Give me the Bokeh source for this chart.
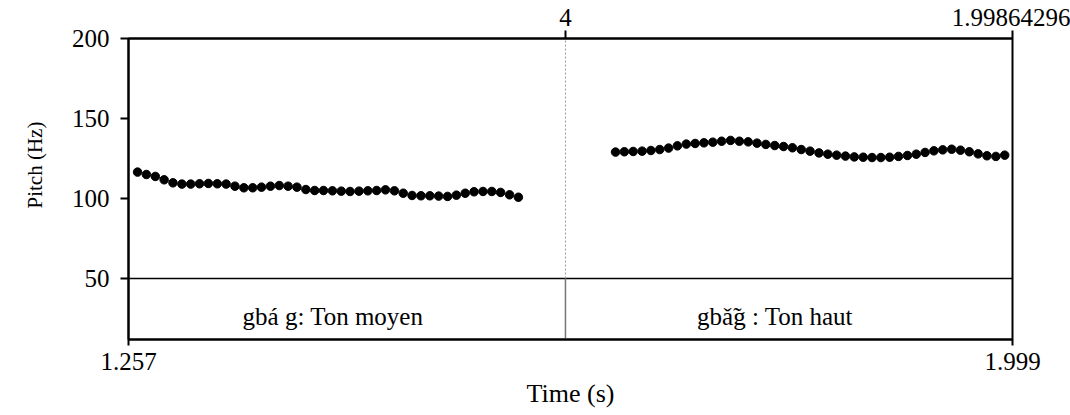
from bokeh.plotting import figure
from bokeh.models import Range1d, LinearAxis, FixedTicker, Title, ColumnDataSource
from bokeh.core.properties import value
from bokeh.embed import file_html
from bokeh.resources import INLINE

# Visible time window (s)
t_start = 1.257
t_end = 1.99864296

# Pitch range shown above the tier, and the tier boundary
pitch_floor = 50
pitch_ceiling = 200
pitch_ticks = [50, 100, 150, 200]

# Pitch contour of the first word
time1 = [1.2646, 1.2720, 1.2795, 1.2869, 1.2943, 1.3018, 1.3092, 1.3166, 1.3240, 1.3315,
         1.3389, 1.3463, 1.3538, 1.3612, 1.3686, 1.3761, 1.3835, 1.3909, 1.3983, 1.4058,
         1.4132, 1.4206, 1.4281, 1.4355, 1.4429, 1.4504, 1.4578, 1.4652, 1.4726, 1.4801,
         1.4875, 1.4949, 1.5024, 1.5098, 1.5172, 1.5247, 1.5321, 1.5395, 1.5469, 1.5544,
         1.5618, 1.5692, 1.5767, 1.5841]
pitch1 = [116.5, 115.0, 113.8, 111.7, 109.8, 109.0, 109.0, 109.2, 109.4, 109.2,
          109.0, 107.7, 106.7, 106.7, 107.1, 107.7, 108.1, 107.7, 107.1, 105.6,
          105.0, 105.0, 104.8, 104.6, 104.4, 104.6, 104.8, 105.0, 105.4, 104.8,
          103.3, 101.9, 101.7, 101.7, 101.5, 101.3, 102.1, 103.3, 104.2, 104.4,
          104.4, 103.8, 102.3, 100.8]

# Pitch contour of the second word
time2 = [1.6656, 1.6730, 1.6804, 1.6879, 1.6953, 1.7027, 1.7101, 1.7175, 1.7250, 1.7324,
         1.7398, 1.7472, 1.7546, 1.7621, 1.7695, 1.7769, 1.7843, 1.7917, 1.7992, 1.8066,
         1.8140, 1.8214, 1.8288, 1.8363, 1.8437, 1.8511, 1.8585, 1.8659, 1.8734, 1.8808,
         1.8882, 1.8956, 1.9030, 1.9105, 1.9179, 1.9253, 1.9327, 1.9401, 1.9476, 1.9550,
         1.9624, 1.9698, 1.9772, 1.9847, 1.9921]
pitch2 = [129.0, 129.2, 129.4, 129.6, 130.0, 130.6, 131.5, 132.9, 134.0, 134.4,
          134.8, 135.2, 135.8, 136.3, 135.8, 135.4, 134.6, 133.8, 133.1, 132.5,
          131.7, 130.6, 129.6, 128.5, 127.7, 127.1, 126.5, 126.0, 125.8, 125.6,
          125.6, 125.8, 126.3, 126.9, 127.7, 128.8, 129.8, 130.4, 130.8, 130.2,
          129.2, 127.9, 126.7, 126.3, 127.1]

# TextGrid tier: interval boundaries and labels
boundary_time = 1.6236
boundary_label = "4"
end_label = "1.99864296"
interval_starts = [t_start, boundary_time]
interval_ends = [boundary_time, t_end]
interval_labels = ["gbá g: Ton moyen", "gbǎ̃g : Ton haut"]

FONT = "Liberation Serif"
FS = "25px"
FS_BIG = "26px"

# Frame geometry: the tier sits below the pitch area
frame_h = 301
pitch_h = 240
tier_bottom = pitch_floor - (frame_h - pitch_h) * (pitch_ceiling - pitch_floor) / pitch_h

p = figure(width=1070, height=415, output_backend="svg", toolbar_location=None,
           x_range=Range1d(t_start, t_end), y_range=Range1d(tier_bottom, pitch_ceiling),
           x_axis_location=None, y_axis_location=None,
           min_border_left=128, min_border_right=58, min_border_top=38, min_border_bottom=76)
p.xgrid.visible = False
p.ygrid.visible = False
p.background_fill_color = "white"
p.border_fill_color = "white"
p.outline_line_color = "black"
p.outline_line_width = 2


def style_axis(ax, tick_out):
    ax.axis_line_color = "black"
    ax.axis_line_width = 2
    ax.major_tick_out = tick_out
    ax.major_tick_in = 0
    ax.major_tick_line_width = 2
    ax.minor_tick_line_color = None
    ax.major_label_text_font = FONT
    ax.major_label_text_font_size = FS
    ax.major_label_text_color = "black"
    ax.axis_label_text_font = FONT
    ax.axis_label_text_font_size = FS_BIG
    ax.axis_label_text_font_style = "normal"
    ax.axis_label_text_color = "black"


# Left pitch axis
yax = LinearAxis(ticker=FixedTicker(ticks=pitch_ticks))
style_axis(yax, 8)
yax.major_label_standoff = 11
p.add_layout(yax, "left")

# Vertical axis title, anchored above the frame bottom so it sits beside the pitch area
ytitle = Title(text="Pitch (Hz)", align="left", vertical_align="top", offset=131, standoff=40,
               text_font=FONT, text_font_size="21px", text_font_style="normal",
               text_color="black")
p.add_layout(ytitle, "left")

# Bottom time axis
xax = LinearAxis(ticker=FixedTicker(ticks=[t_start, t_end]))
style_axis(xax, 6)
xax.major_label_overrides = {t_start: "1.257", t_end: "1.999"}
xax.major_label_standoff = 7
xax.axis_label = "Time (s)"
xax.axis_label_standoff = 6
p.add_layout(xax, "below")

# Top axis: boundary time and end time
tax = LinearAxis(ticker=FixedTicker(ticks=[boundary_time, t_end]))
style_axis(tax, 8)
tax.major_label_overrides = {boundary_time: boundary_label, t_end: end_label}
tax.major_label_standoff = 5
p.add_layout(tax, "above")

# Tier separator and interval boundary
p.segment(x0=[t_start], y0=[pitch_floor], x1=[t_end], y1=[pitch_floor],
          line_color="black", line_width=1.5)
p.segment(x0=[boundary_time], y0=[pitch_floor], x1=[boundary_time], y1=[pitch_ceiling],
          line_color="#999999", line_width=1, line_dash="2 2")
p.segment(x0=[boundary_time], y0=[tier_bottom], x1=[boundary_time], y1=[pitch_floor],
          line_color="#777777", line_width=1.5)

# Interval labels centred in each interval
tier_src = ColumnDataSource(dict(
    x=[(a + b) / 2 for a, b in zip(interval_starts, interval_ends)],
    y=[(tier_bottom + pitch_floor) / 2] * len(interval_labels),
    text=interval_labels,
))
p.text(x="x", y="y", text="text", source=tier_src, x_offset=-14, y_offset=7,
       text_align="center", text_baseline="middle",
       text_font=value(FONT), text_font_size=FS, text_color="black")

# Pitch contours
p.scatter(time1, pitch1, size=8.5, color="black")
p.scatter(time2, pitch2, size=8.5, color="black")

open("out.html", "w").write(file_html(p, INLINE))
